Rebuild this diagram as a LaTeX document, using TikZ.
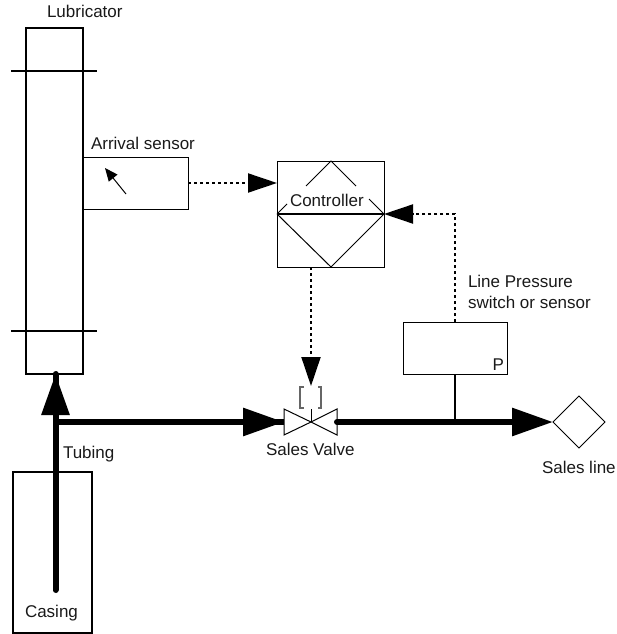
\documentclass[tikz,border=0pt]{standalone}
\usepackage{fontspec}
\setmainfont{Liberation Sans}
\usetikzlibrary{arrows.meta}
\tikzset{
  x=1pt,y=-1pt,
  box/.style={draw=black,line width=1pt,minimum width=#1,inner sep=0pt,outer sep=0pt},
  lbl/.style={font=\fontsize{17}{20}\selectfont,inner sep=0pt,outer sep=0pt,text=black!90},
  thin line/.style={draw=black,line width=1pt},
  pipe/.style={draw=black,line width=6pt,line cap=round},
  head/.style={-{Triangle[length=41pt,width=27pt]},draw=black,line width=6pt},
  sig/.style={draw=black,line width=2pt,dash pattern=on 3pt off 3pt},
  sighead/.style={-{Triangle[length=29pt,width=19pt]},draw=black,line width=2pt,dash pattern=on 3pt off 3pt},
}
\newcommand{\boxat}[6]{\node[box=#4 pt,minimum height=#5 pt,anchor=north west,#6] (#1) at (#2,#3) {};}
\begin{document}
\begin{tikzpicture}
\useasboundingbox (0,0) rectangle (617,634);
\boxat{lub}{26}{28}{57}{346}{line width=1.4pt}
\boxat{arrival}{83}{157}{105}{52}{}
\boxat{ctrl}{277}{161}{107}{106}{}
\boxat{press}{403}{322}{104}{52}{}
\boxat{casing}{13}{472}{79}{161}{line width=1.2pt}
\coordinate (bar1a) at (11,71); \coordinate (bar1b) at (97,71);
\coordinate (bar2a) at (11,331); \coordinate (bar2b) at (97,331);
\draw[draw=black,line width=1.5pt] (bar1a) -- (bar1b);
\draw[draw=black,line width=1.5pt] (bar2a) -- (bar2b);
% arrival arrow
\coordinate (aa) at (126,194); \coordinate (ab) at (105,168);
\draw[thin line,-{Triangle[length=13pt,width=11pt]}] (aa) -- (ab);
% controller
\coordinate (cl) at (277,214); \coordinate (cr) at (384,214);
\coordinate (ct) at (331,161); \coordinate (cb) at (331,267);
\draw[draw=black,line width=1.7pt] (cl) -- (cr);
\draw[thin line] (cl) -- (cb) -- (cr);
\draw[thin line] (306,186) -- (ct) -- (356,186);
\draw[thin line] (287,204) -- (cl);
\draw[thin line] (369,199) -- (cr);
% valve
\coordinate (vc) at (311,422);
\coordinate (vl) at (284,422); \coordinate (vr) at (337,422);
\draw[thin line,fill=white] (vc) -- (284,409) -- (284,435) -- cycle;
\draw[thin line,fill=white] (vc) -- (337,409) -- (337,435) -- cycle;
\coordinate (vs) at (311,409);
\draw[thin line] (vc) -- (vs);
\draw[draw=black!60,line width=1.5pt] (304,387) -- (300,387) -- (300,408) -- (304,408);
\draw[draw=black!60,line width=1.5pt] (318,387) -- (321,387) -- (321,408) -- (318,408);
% sales line diamond
\coordinate (sl) at (553,422);
\draw[thin line] (sl) -- (579,396) -- (605,422) -- (579,448) -- cycle;
% pipes
\coordinate (pb) at (55.5,590); \coordinate (pt) at (55.5,374); \coordinate (pj) at (55.5,422);
\draw[pipe] (pb) -- (pt);
\draw[head] (pb) -- (pt);
\draw[draw=black,line width=6pt] (pj) -- (vl);
\draw[head] (pj) -- (vl);
\draw[pipe] (vr) -- (500,422);
\draw[head] (vr) -- (sl);
% pressure stem
\coordinate (pstem) at (455,422);
\draw[draw=black,line width=1.8pt] (press.south -| pstem) -- (pstem);
% signals
\coordinate (vtop) at (311,386);
\coordinate (ctrlb) at (311,267);
\draw[sighead] (ctrlb) -- (vtop);
\coordinate (arrr) at (188,183); \coordinate (ctrll) at (277,183);
\draw[sighead] (arrr) -- (ctrll);
\coordinate (corner) at (455,214);
\draw[draw=black,line width=2pt,dash pattern=on 3pt off 3pt] (press.north -| corner) -- (corner) -- (412,214);
\draw[sighead] (corner) -- (cr);
% labels
\node[lbl,anchor=base west] (t1) at (47,18) {Lubricator};
\node[lbl,anchor=base west] (t2) at (91,149) {Arrival sensor};
\node[lbl,anchor=base west] (t3) at (290,206) {Controller};
\node[lbl,anchor=base west] (t4) at (468,287) {Line Pressure};
\node[lbl,anchor=base west] (t5) at (468,308) {switch or sensor};
\node[lbl,anchor=base east] (t6) at (504,370) {P};
\node[lbl,anchor=base west] (t7) at (266,455) {Sales Valve};
\node[lbl,anchor=base west] (t8) at (63,458) {Tubing};
\node[lbl,anchor=base west] (t9) at (542,473) {Sales line};
\node[lbl,anchor=base west] (t10) at (25,617) {Casing};
\end{tikzpicture}
\end{document}
